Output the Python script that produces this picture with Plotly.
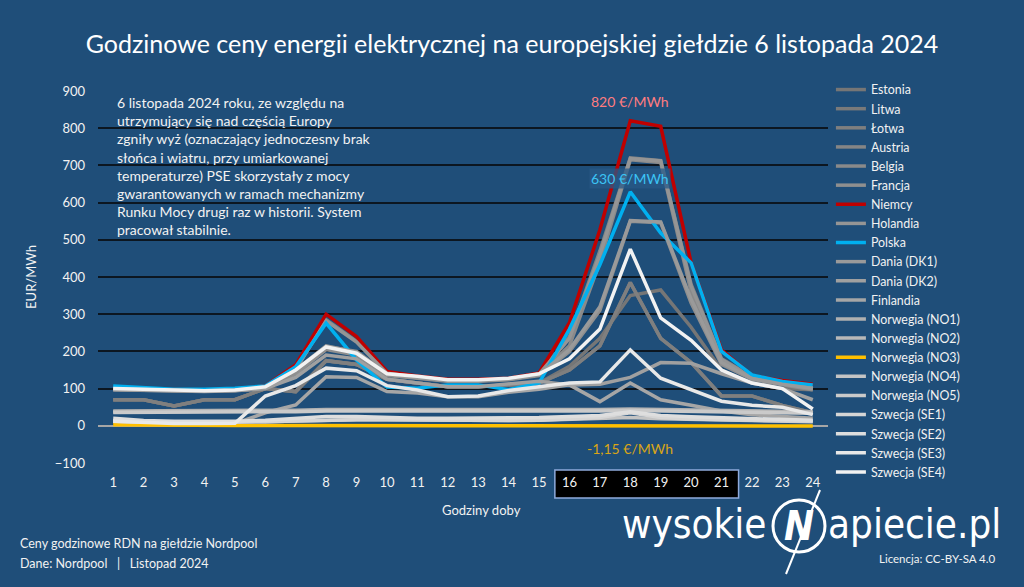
import plotly.graph_objects as go

hours = list(range(1, 25))
tick_labels = [str(h) for h in hours]
y_ticks = list(range(-100, 1000, 100))

series_names = ["Estonia", "Litwa", "Łotwa", "Austria", "Belgia", "Francja", "Niemcy",
                "Holandia", "Polska", "Dania (DK1)", "Dania (DK2)", "Finlandia",
                "Norwegia (NO1)", "Norwegia (NO2)", "Norwegia (NO3)", "Norwegia (NO4)",
                "Norwegia (NO5)", "Szwecja (SE1)", "Szwecja (SE2)", "Szwecja (SE3)", "Szwecja (SE4)"]

estonia = [70, 70, 53, 70, 70, 100, 92, 175, 165, 125, 115, 105, 105, 110, 115, 160, 235, 350, 365, 265, 150, 115, 100, 97]
litwa = [70, 70, 53, 70, 70, 100, 92, 175, 165, 125, 115, 105, 105, 110, 115, 150, 215, 385, 235, 170, 80, 80, 55, 35]
lotwa = [70, 70, 53, 70, 70, 100, 92, 175, 165, 125, 115, 105, 105, 110, 115, 150, 215, 385, 235, 170, 80, 80, 55, 35]
austria = [100, 99, 95, 94, 97, 104, 152, 285, 227, 142, 132, 124, 124, 127, 140, 240, 470, 720, 713, 380, 180, 132, 118, 100]
belgia = [98, 97, 94, 93, 95, 102, 148, 213, 200, 140, 130, 122, 122, 126, 138, 215, 440, 715, 708, 360, 172, 128, 114, 98]
francja = [97, 96, 94, 93, 95, 100, 140, 205, 190, 135, 128, 120, 120, 124, 135, 200, 310, 550, 546, 330, 165, 125, 110, 97]
niemcy = [100, 99, 96, 96, 98, 107, 164, 300, 240, 146, 134, 125, 125, 128, 142, 277, 527, 820, 805, 438, 204, 135, 122, 112]
holandia = [99, 98, 95, 94, 96, 103, 152, 282, 225, 141, 131, 123, 123, 126, 139, 235, 460, 718, 712, 375, 178, 130, 116, 102]
polska = [107, 102, 98, 98, 101, 107, 159, 276, 177, 104, 101, 110, 110, 97, 115, 260, 433, 629, 518, 438, 200, 137, 119, 110]
dk1 = [99, 98, 95, 94, 96, 103, 150, 215, 198, 139, 129, 121, 121, 125, 137, 205, 320, 552, 548, 340, 170, 127, 112, 100]
dk2 = [97, 96, 93, 92, 94, 100, 130, 190, 180, 125, 115, 105, 105, 112, 120, 110, 112, 130, 170, 168, 140, 115, 100, 70]
finlandia = [10, 6, 5, 5, 6, 35, 56, 132, 130, 92, 88, 78, 78, 90, 98, 110, 65, 115, 70, 55, 40, 30, 25, 20]
no1 = [40, 40, 40, 40, 40, 41, 42, 44, 44, 43, 42, 42, 42, 42, 42, 43, 44, 45, 44, 43, 42, 41, 40, 38]
no2 = [38, 38, 38, 38, 38, 39, 40, 42, 42, 41, 40, 40, 40, 40, 40, 41, 42, 43, 42, 41, 40, 39, 38, 36]
no3 = [3, 2, 1.5, 1, 1, 1, 0.5, 0.3, 0.3, 0.5, 0.5, 0.4, 0.3, 0.2, 0.1, -0.5, -0.8, -1.15, -1, -0.9, -0.8, -0.6, -0.5, -0.4]
no4 = [12, 10, 9, 9, 9, 11, 13, 15, 16, 16, 15, 15, 14, 14, 15, 17, 19, 22, 19, 17, 15, 14, 13, 11]
no5 = [36, 36, 36, 36, 36, 37, 38, 40, 40, 39, 38, 38, 38, 38, 38, 39, 40, 41, 40, 39, 38, 37, 36, 34]
se1 = [12, 10, 9, 9, 9, 11, 13, 15, 16, 16, 15, 15, 14, 14, 15, 18, 22, 35, 22, 18, 16, 15, 14, 12]
se2 = [20, 14, 12, 12, 12, 15, 20, 25, 25, 22, 20, 20, 20, 20, 22, 25, 28, 38, 28, 24, 22, 20, 18, 15]
se3 = [12, 8, 6, 6, 7, 80, 108, 155, 148, 108, 96, 78, 80, 95, 105, 115, 118, 204, 128, 97, 66, 55, 50, 30]
se4 = [100, 98, 95, 94, 96, 105, 150, 212, 195, 140, 133, 124, 124, 128, 140, 180, 260, 475, 290, 230, 150, 115, 100, 45]

series_values = [estonia, litwa, lotwa, austria, belgia, francja, niemcy, holandia, polska,
                 dk1, dk2, finlandia, no1, no2, no3, no4, no5, se1, se2, se3, se4]
series_colors = ["#767676", "#7a7a7a", "#7f7f7f", "#858585", "#8a8a8a", "#8f8f8f", "#C00000",
                 "#959595", "#00B0F0", "#9a9a9a", "#a0a0a0", "#a6a6a6", "#b0b0b0", "#b8b8b8",
                 "#FFC000", "#c4c4c4", "#cacaca", "#d6d6d6", "#dedede", "#e8e8e8", "#f2f2f2"]

highlight_hours = (16, 21)
peak_de = 820
peak_pl = 630
min_no3 = -1.15

BG = "#1F4E79"
FONT = "Lato, 'Open Sans', sans-serif"
TXT = "#f2f2f2"

# helpers to place decorations in pixel terms relative to the plot area
PL, PT, PW, PH = 98, 91, 730, 372
def px(x):
    return (x - PL) / PW
def py(y):
    return (PT + PH - y) / PH

ROW = 19.12          # legend row pitch in px
FIRST_ROW = 89       # centre of the first legend row in px
SPLIT = 11           # entries in the first legend block

fig = go.Figure()
for i, (name, vals, col) in enumerate(zip(series_names, series_values, series_colors)):
    fig.add_trace(go.Scatter(x=hours, y=vals, name=name, mode="lines",
                             legend="legend" if i < SPLIT else "legend2",
                             line=dict(color=col, width=3.5)))

legend_style = dict(x=1.004, xanchor="left", yanchor="top",
                    font=dict(size=12.4, color=TXT, family=FONT),
                    bgcolor="rgba(0,0,0,0)", tracegroupgap=0, itemwidth=30)

fig.update_layout(
    width=1024, height=587,
    paper_bgcolor=BG, plot_bgcolor=BG,
    margin=dict(l=98, r=196, t=91, b=124, autoexpand=False),
    font=dict(family=FONT, color=TXT, size=13),
    title=dict(text="Godzinowe ceny energii elektrycznej na europejskiej giełdzie 6 listopada 2024",
               x=0.5, xanchor="center", y=1 - 44 / 587, yanchor="middle",
               font=dict(size=25, color="white", family=FONT)),
    legend=dict(y=py(FIRST_ROW - 14), **legend_style),
    legend2=dict(y=py(FIRST_ROW + SPLIT * ROW - 14), **legend_style),
    showlegend=True,
)

fig.update_xaxes(range=[0.5, 24.5], tickvals=hours, ticktext=tick_labels,
                 showgrid=False, zeroline=False, showline=False, ticks="",
                 ticklabelstandoff=10, tickfont=dict(size=13, color=TXT))
fig.update_yaxes(range=[-100, 900], tickvals=y_ticks,
                 showgrid=True, gridcolor="#0c1620", gridwidth=2,
                 zeroline=True, zerolinecolor="#a6a6a6", zerolinewidth=1.5,
                 showline=False, ticks="", ticklabelstandoff=12,
                 tickfont=dict(size=13, color=TXT),
                 title=dict(text="EUR/MWh", font=dict(size=13, color=TXT), standoff=15))

fig.add_annotation(text="Godziny doby", xref="paper", yref="paper", x=px(481), y=py(510),
                   xanchor="center", yanchor="middle", showarrow=False,
                   font=dict(size=13, color=TXT, family=FONT))

# highlight box around hours 16-21
fig.add_shape(type="rect", xref="x", yref="paper",
              x0=highlight_hours[0] - 0.48, x1=highlight_hours[1] + 0.56,
              y0=py(498), y1=py(470), fillcolor="black",
              line=dict(color="#8FAADC", width=1.5), layer="below")

# description text
desc = ("6 listopada 2024 roku, ze względu na<br>utrzymujący się nad częścią Europy<br>"
        "zgniły wyż (oznaczający jednoczesny brak<br>słońca i wiatru, przy umiarkowanej<br>"
        "temperaturze) PSE skorzystały z mocy<br>gwarantowanych w ramach mechanizmy<br>"
        "Runku Mocy drugi raz w historii. System<br>pracował stabilnie.")
fig.add_annotation(text=desc, xref="paper", yref="paper", x=px(115), y=py(92),
                   xanchor="left", yanchor="top", align="left", showarrow=False,
                   font=dict(size=14, color=TXT, family=FONT))

fig.add_annotation(text=f"{peak_de} €/MWh", x=18, y=peak_de + 53, showarrow=False,
                   font=dict(size=14, color="#FF7C80", family=FONT))
fig.add_annotation(text=f"{peak_pl} €/MWh", x=18, y=peak_pl + 36, showarrow=False,
                   bgcolor="rgba(40,90,135,0.75)",
                   font=dict(size=14, color="#3CC4F5", family=FONT))
fig.add_annotation(text=f"{min_no3:.2f} €/MWh".replace(".", ","), x=18, y=-62, showarrow=False,
                   font=dict(size=14, color="#D9A516", family=FONT))

# footer
fig.add_annotation(text="Ceny godzinowe RDN na giełdzie Nordpool", xref="paper", yref="paper",
                   x=px(18), y=py(543), xanchor="left", yanchor="middle",
                   showarrow=False, font=dict(size=12.5, color=TXT, family=FONT))
fig.add_annotation(text="Dane: Nordpool   |   Listopad 2024", xref="paper", yref="paper",
                   x=px(18), y=py(563), xanchor="left", yanchor="middle",
                   showarrow=False, font=dict(size=12.5, color=TXT, family=FONT))
fig.add_annotation(text="Licencja: CC-BY-SA 4.0", xref="paper", yref="paper",
                   x=px(997), y=py(558), xanchor="right", yanchor="middle",
                   showarrow=False, font=dict(size=11.5, color=TXT, family=FONT))

# logo
LOGO_FONT = "'Liberation Sans Narrow', 'DejaVu Sans Condensed', Roboto, sans-serif"
fig.add_annotation(text="wysokie", xref="paper", yref="paper",
                   x=px(768), y=py(524), xanchor="right", yanchor="middle",
                   showarrow=False, font=dict(size=40, color="white", family=LOGO_FONT))
fig.add_annotation(text="apiecie.pl", xref="paper", yref="paper",
                   x=px(826), y=py(524), xanchor="left", yanchor="middle",
                   showarrow=False, font=dict(size=40, color="white", family=LOGO_FONT))
cx, cy, r = 799, 526, 26
fig.add_shape(type="circle", xref="paper", yref="paper",
              x0=px(cx - r), x1=px(cx + r), y0=py(cy + r), y1=py(cy - r),
              line=dict(color="white", width=3))
fig.add_shape(type="line", xref="paper", yref="paper",
              x0=px(820), y0=py(490), x1=px(786), y1=py(574),
              line=dict(color="white", width=2))
fig.add_annotation(text="<b><i>N</i></b>", xref="paper", yref="paper",
                   x=px(cx), y=py(cy), xanchor="center", yanchor="middle",
                   showarrow=False, font=dict(size=40, color="white", family=LOGO_FONT))

fig.write_html("out.html")
